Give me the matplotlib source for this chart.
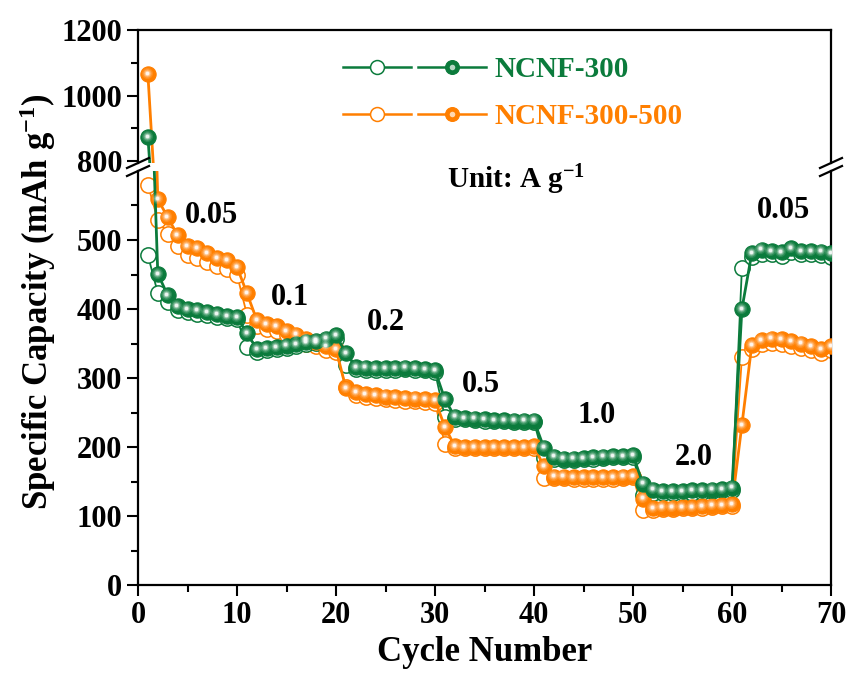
import matplotlib
matplotlib.use("Agg")
import matplotlib.pyplot as plt
import matplotlib.transforms as mtransforms
from matplotlib.lines import Line2D
from matplotlib.legend_handler import HandlerTuple
from matplotlib.ticker import MultipleLocator, FixedLocator

plt.rcParams['font.family'] = ['Liberation Serif', 'DejaVu Serif']
plt.rcParams['font.weight'] = 'bold'
plt.rcParams['mathtext.fontset'] = 'custom'
plt.rcParams['mathtext.rm'] = 'Liberation Serif:bold'
plt.rcParams['mathtext.default'] = 'rm'

# ---------------- data ----------------
cycles = list(range(1, 71))

ncnf300_discharge = [873, 451, 420, 404, 400, 398, 395, 393, 390, 388,
                     365, 342, 343, 345, 347, 349, 352, 354, 357, 362,
                     336, 316, 315, 314, 314, 314, 315, 314, 313, 311,
                     269, 244, 242, 241, 240, 239, 239, 238, 238, 238,
                     199, 186, 183, 183, 184, 185, 186, 187, 187, 188,
                     147, 138, 136, 136, 136, 137, 137, 138, 139, 141,
                     400, 481, 486, 484, 482, 488, 484, 484, 483, 481]
ncnf300_charge = [478, 423, 410, 398, 395, 393, 391, 389, 387, 385,
                  345, 338, 340, 342, 344, 346, 349, 351, 354, 357,
                  319, 313, 312, 312, 312, 312, 313, 312, 311, 309,
                  243, 241, 240, 239, 238, 237, 237, 236, 236, 236,
                  184, 182, 181, 181, 182, 183, 184, 185, 185, 186,
                  130, 134, 133, 133, 134, 134, 135, 136, 137, 138,
                  459, 476, 480, 479, 477, 482, 479, 479, 478, 476]
ncnf300500_discharge = [1065, 559, 533, 507, 491, 488, 481, 474, 471, 461,
                        423, 384, 378, 375, 368, 363, 356, 352, 346, 342,
                        285, 280, 277, 275, 273, 272, 271, 270, 269, 268,
                        229, 201, 200, 200, 200, 200, 200, 200, 200, 201,
                        172, 157, 157, 156, 156, 156, 156, 156, 157, 158,
                        125, 111, 112, 112, 113, 113, 114, 115, 116, 117,
                        232, 348, 355, 357, 356, 353, 350, 346, 342, 346]
ncnf300500_charge = [580, 529, 509, 491, 478, 474, 468, 462, 458, 450,
                     392, 376, 371, 368, 362, 357, 350, 346, 341, 337,
                     287, 276, 273, 271, 269, 268, 267, 266, 265, 264,
                     204, 199, 198, 198, 198, 198, 198, 198, 198, 199,
                     155, 155, 155, 154, 154, 154, 154, 154, 155, 156,
                     109, 109, 110, 110, 111, 111, 112, 113, 114, 115,
                     330, 342, 349, 351, 350, 347, 344, 340, 336, 340]

series_labels = ['NCNF-300', 'NCNF-300-500']
rate_labels = ['0.05', '0.1', '0.2', '0.5', '1.0', '2.0', '0.05']
rate_label_x = [7.4, 15.4, 25.0, 34.6, 46.3, 56.1, 65.2]
rate_label_y = [535, 416, 381, 290, 245, 185, 543]

GREEN = '#0b7b3c'
ORANGE = '#ff7f00'
MS = 11

# ---------------- figure ----------------
W, H = 851, 682
fig = plt.figure(figsize=(W / 100, H / 100), dpi=100)
left_px, right_px = 138, 831
low_top, low_bot = 171, 585
up_top, up_bot = 30, 163

ax_low = fig.add_axes([left_px / W, (H - low_bot) / H, (right_px - left_px) / W, (low_bot - low_top) / H])
ax_up = fig.add_axes([left_px / W, (H - up_bot) / H, (right_px - left_px) / W, (up_bot - up_top) / H], sharex=ax_low)

ax_low.set_ylim(0, 600)
ax_up.set_ylim(794, 1200)
ax_low.set_xlim(0, 70)

series = [
    (ncnf300500_charge, ncnf300500_discharge, ORANGE),
    (ncnf300_charge, ncnf300_discharge, GREEN),
]

for ax in (ax_low, ax_up):
    hl_tr = mtransforms.offset_copy(ax.transData, fig=fig, x=-1.3, y=1.3, units='dots')
    for charge, discharge, col in series:
        ax.plot(cycles, charge, '-', color=col, lw=1.3, marker='o', ms=MS,
                mfc='white', mec=col, mew=1.1, zorder=2)
        ax.plot(cycles, discharge, '-', color=col, lw=2.0, marker='o', ms=MS,
                mfc=col, mec=col, mew=0.8, zorder=3)
        for k, (s, a) in enumerate([(8, 0.12), (6, 0.22), (4.2, 0.4), (2.6, 0.85)]):
            ax.plot(cycles, discharge, ls='none', marker='o', ms=s, mfc='white', mec='none',
                    alpha=a, zorder=3.1 + 0.01 * k, transform=hl_tr)

# ---------------- axes styling ----------------
for ax in (ax_low, ax_up):
    for s in ax.spines.values():
        s.set_linewidth(1.6)
    ax.tick_params(axis='both', which='major', direction='out', length=8, width=1.5,
                   labelsize=22, top=False, right=False)
    ax.tick_params(axis='both', which='minor', direction='out', length=5, width=1.5,
                   top=False, right=False)

ax_low.spines['top'].set_visible(False)
ax_up.spines['bottom'].set_visible(False)
ax_up.tick_params(axis='x', which='both', bottom=False, labelbottom=False)

ax_low.xaxis.set_major_locator(MultipleLocator(10))
ax_low.xaxis.set_minor_locator(MultipleLocator(5))
ax_low.yaxis.set_major_locator(FixedLocator([0, 100, 200, 300, 400, 500]))
ax_low.yaxis.set_minor_locator(FixedLocator([50, 150, 250, 350, 450, 550]))
ax_up.yaxis.set_major_locator(FixedLocator([800, 1000, 1200]))
ax_up.yaxis.set_minor_locator(FixedLocator([900, 1100]))

ax_low.set_xlabel('Cycle Number', fontsize=25, fontweight='bold', labelpad=4)
fig.text(38 / W, (H - 302) / H, 'Specific Capacity (mAh g$^{-1}$)', rotation=90,
         ha='center', va='center', fontsize=25, fontweight='bold')

# rate labels
for t, x, y in zip(rate_labels, rate_label_x, rate_label_y):
    ax_low.text(x, y, t, ha='center', va='center', fontsize=22, fontweight='bold')
ax_low.text(38.2, 587, 'Unit: A g$^{-1}$', ha='center', va='center', fontsize=21, fontweight='bold')

# break marks
for xpx in (left_px, right_px):
    for ypx in (up_bot, low_top):
        yy = H - ypx
        fig.add_artist(Line2D([(xpx - 11) / W, (xpx + 11) / W], [(yy - 5) / H, (yy + 5) / H],
                              color='black', lw=1.6, transform=fig.transFigure))

# legend
leg_handles = []
for col in (GREEN, ORANGE):
    h_open = Line2D([], [], color=col, lw=1.8, marker='o', ms=MS - 1, mfc='white', mec=col, mew=1.1)
    h_fill = Line2D([], [], color=col, lw=1.8, marker='o', ms=MS - 1, mfc=col, mec=col, mew=0.8)
    h_hl = Line2D([], [], ls='none', marker='o', ms=4, mfc='white', mec='none', alpha=0.7)
    leg_handles.append((h_open, (h_fill, h_hl)))

hmap = {h: HandlerTuple(ndivide=None, pad=0.25) for h in leg_handles}
leg = ax_up.legend(leg_handles, series_labels, handler_map=hmap, loc='center left',
                   bbox_to_anchor=(343 / W, (H - 93) / H), bbox_transform=fig.transFigure,
                   frameon=False, borderpad=0, borderaxespad=0, handlelength=4.9,
                   handletextpad=0.3, labelspacing=0.68, numpoints=1,
                   prop={'size': 21, 'weight': 'bold'})
for txt, col in zip(leg.get_texts(), [GREEN, ORANGE]):
    txt.set_color(col)

fig.savefig('out.png', dpi=100)
